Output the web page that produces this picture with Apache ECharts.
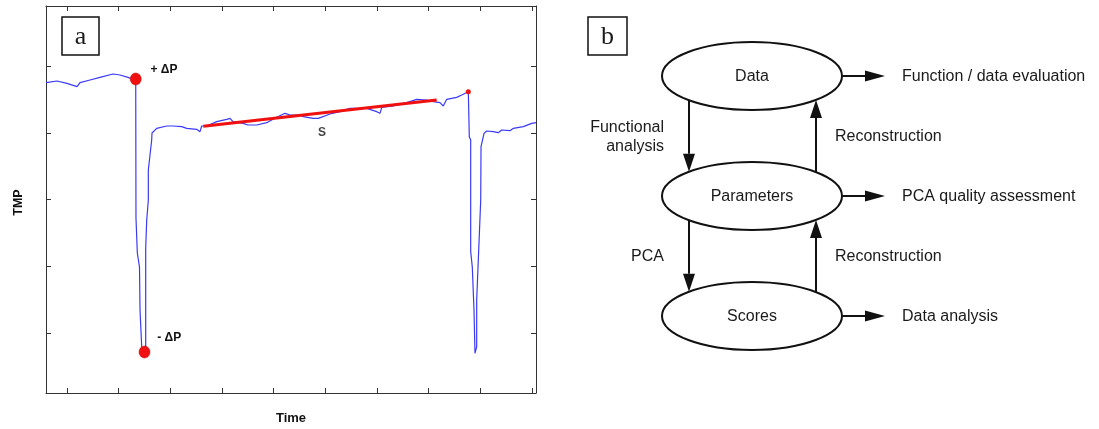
<!DOCTYPE html>
<html>
<head>
<meta charset="utf-8">
<script src="https://cdn.jsdelivr.net/npm/echarts@6/dist/echarts.min.js"></script>
<style>
html, body { margin: 0; padding: 0; background: #fff; }
#main { width: 1099px; height: 429px; }
</style>
</head>
<body>
<div id="main"></div>
<script>
// a: TMP curve
const timeVals = [5.94, 8.06, 10.0, 11.94, 12.52, 14.45, 16.39, 18.9, 20.26, 21.81, 22.58, 23.3,
	23.35, 23.61, 23.61, 24.03, 24.13, 24.46, 24.46, 24.96, 25.23, 25.23, 25.43, 25.74, 25.74,
	26.39, 26.45, 26.7, 27.36, 29.3, 30.57, 32.2, 33.17, 35.1, 35.74, 36.07, 37.04, 38.97, 40.91,
	41.55, 42.13, 44.06, 45.03, 46.72, 48.65, 50.59, 52.19, 53.16, 55.1, 55.73, 57.67, 58.64,
	60.9, 62.84, 64.77, 68.0, 69.94, 70.58, 70.91, 73.15, 75.75, 77.68, 79.62, 80.89, 82.19,
	82.83, 83.16, 83.49, 85.42, 86.39, 87.67, 87.86, 88.13, 88.13, 88.44, 88.77, 88.96, 89.29,
	89.29, 89.68, 90.07, 90.13, 90.71, 91.23, 92.51, 93.47, 94.13, 95.74, 96.38, 98.31, 99.94, 100.77];
const tmpVals = [475.5, 478, 474.5, 469.5, 475.5, 479.5, 483.5, 488.5, 487, 483.5, 481, 481,
	272.5, 269.5, 220, 199, 134.5, 131.5, 79, 71.5, 79, 227.5, 269.5, 299.5, 344.5,
	389.5, 400, 402, 407, 410.5, 410.5, 409.5, 407, 405.5, 402, 410.5, 410.5, 417, 420.5,
	422, 417, 414.5, 412, 412, 415.5, 423.5, 429.5, 427, 427, 424.5, 422, 422,
	428.5, 432, 437, 437, 432, 429.5, 438.5, 440.5, 445.5, 450.5, 449.5, 447, 445.5,
	440.5, 440.5, 450.5, 453.5, 457, 462, 394.5, 389.5, 222, 199, 134.5, 69.5, 79.5,
	149.5, 224.5, 299.5, 379.5, 399.5, 403, 402, 400.5, 404.5, 403.5, 407, 409.5, 414.5, 415.5];

// slope S
const slopeTime = [36.38, 81.55];
const slopeTmp = [410, 449.5];
const slopeLabel = ['S', 59.35, 400];

// +dP / -dP
const dpNames = ['+ ΔP', '- ΔP'];
const dpTime = [23.3, 25.0];
const dpTmp = [481, 71.5];
const endTime = [87.67];
const endTmp = [462];

const timeTicks = [10, 20, 30, 40, 50, 60, 70, 80, 90, 100];
const tmpTicks = [100, 200, 300, 400, 500];
const timeRange = [5.935, 100.77];
const tmpRange = [10, 590.5];

// b: flow diagram
const nodeNames = ['Data', 'Parameters', 'Scores'];
const outputNames = ['Function / data evaluation', 'PCA quality assessment', 'Data analysis'];
const downLabels = ['Functional\nanalysis', 'PCA'];
const upLabels = ['Reconstruction', 'Reconstruction'];

const chart = echarts.init(document.getElementById('main'), null, { renderer: 'canvas' });

function zip(a, b) {
	return a.map(function (v, i) { return [v, b[i]]; });
}

function txt(s, x, y, font, align, valign) {
	return {
		type: 'text',
		silent: true,
		style: {
			text: s, x: x, y: y, font: font, fill: '#1a1a1a',
			align: align, verticalAlign: valign,
			textAlign: align, textVerticalAlign: valign,
			lineHeight: 19
		}
	};
}

function arrow(els, x1, y1, x2, y2, len, half) {
	let dx = x2 - x1, dy = y2 - y1;
	let d = Math.sqrt(dx * dx + dy * dy);
	let ux = dx / d, uy = dy / d;
	let bx = x2 - ux * len, by = y2 - uy * len;
	els.push({
		type: 'line', silent: true,
		shape: { x1: x1, y1: y1, x2: bx, y2: by },
		style: { stroke: '#111', lineWidth: 2 }
	});
	els.push({
		type: 'polygon', silent: true,
		shape: { points: [[x2, y2], [bx - uy * half, by + ux * half], [bx + uy * half, by - ux * half]] },
		style: { fill: '#111' }
	});
}

function letterBox(els, s, x, y, w, h) {
	els.push({
		type: 'rect', silent: true,
		shape: { x: x, y: y, width: w, height: h },
		style: { fill: '#fff', stroke: '#111', lineWidth: 1.5 }
	});
	els.push(txt(s, x + w / 2, y + h / 2 + 1, '26px "Liberation Serif", "Times New Roman", serif', 'center', 'middle'));
}

function buildDiagram() {
	let els = [];
	let cx = 752, rx = 90, ry = 34, top = 76, gap = 120;
	let lx = -63, rxo = 64;
	let font = '16px "Liberation Sans", Arial, sans-serif';
	function edge(cy, dx, side) {
		return cy + side * ry * Math.sqrt(1 - (dx * dx) / (rx * rx));
	}
	letterBox(els, 'a', 62, 17, 37, 38);
	letterBox(els, 'b', 588, 17, 39, 38);

	nodeNames.forEach(function (name, i) {
		let cy = top + i * gap;
		els.push({
			type: 'ellipse', silent: true,
			shape: { cx: cx, cy: cy, rx: rx, ry: ry },
			style: { fill: '#fff', stroke: '#111', lineWidth: 2 }
		});
		els.push(txt(name, cx, cy + 1, font, 'center', 'middle'));
		arrow(els, cx + rx, cy, 885, cy, 20, 5.5);
		els.push(txt(outputNames[i], 902, cy + 1, font, 'left', 'middle'));
	});

	downLabels.forEach(function (s, i) {
		let cy1 = top + i * gap, cy2 = top + (i + 1) * gap;
		arrow(els, cx + lx, edge(cy1, lx, 1), cx + lx, edge(cy2, lx, -1), 18, 6);
		els.push(txt(s, 664, (cy1 + cy2) / 2 + 1, font, 'right', 'middle'));
	});
	upLabels.forEach(function (s, i) {
		let cy1 = top + i * gap, cy2 = top + (i + 1) * gap;
		arrow(els, cx + rxo, edge(cy2, rxo, -1), cx + rxo, edge(cy1, rxo, 1), 18, 6);
		els.push(txt(s, 835, (cy1 + cy2) / 2 + 1, font, 'left', 'middle'));
	});
	return els;
}

function axisX(pos, name) {
	return {
		type: 'value', position: pos, min: timeRange[0], max: timeRange[1],
		name: name, nameLocation: 'middle', nameGap: 19,
		nameTextStyle: { fontFamily: 'Liberation Sans', fontWeight: 'bold', fontSize: 13, color: '#111' },
		axisLine: { show: true, onZero: false, lineStyle: { color: '#333', width: 1 } },
		axisTick: { show: true, inside: true, length: 5, customValues: timeTicks, lineStyle: { color: '#333' } },
		axisLabel: { show: false },
		splitLine: { show: false }
	};
}

function axisY(pos, name) {
	return {
		type: 'value', position: pos, min: tmpRange[0], max: tmpRange[1],
		name: name, nameLocation: 'middle', nameGap: 21,
		nameTextStyle: { fontFamily: 'Liberation Sans', fontWeight: 'bold', fontSize: 12.5, color: '#111', padding: [0, 6, 0, 0] },
		axisLine: { show: true, onZero: false, lineStyle: { color: '#333', width: 1 } },
		axisTick: { show: true, inside: true, length: 5, customValues: tmpTicks, lineStyle: { color: '#333' } },
		axisLabel: { show: false },
		splitLine: { show: false }
	};
}

let option = {
	animation: false,
	backgroundColor: '#fff',
	grid: { left: 46, top: 6, width: 490, height: 387, containLabel: false, outerBoundsMode: 'none' },
	xAxis: [axisX('bottom', 'Time'), axisX('top', '')],
	yAxis: [axisY('left', 'TMP'), axisY('right', '')],
	series: [{
		type: 'line',
		data: zip(timeVals, tmpVals),
		showSymbol: false,
		lineStyle: { color: '#3a3af6', width: 1.2 },
		z: 2
	}, {
		type: 'line',
		data: zip(slopeTime, slopeTmp),
		showSymbol: false,
		lineStyle: { color: '#f01010', width: 3 },
		z: 3
	}, {
		type: 'scatter',
		data: [{
			value: [dpTime[0], dpTmp[0]], name: dpNames[0],
			label: { distance: 9, offset: [0, -9] }
		}, {
			value: [dpTime[1], dpTmp[1]], name: dpNames[1],
			label: { distance: 7, offset: [0, -14] }
		}],
		symbolSize: [11, 12],
		itemStyle: { color: '#f01010', borderColor: '#c00000', borderWidth: 0.5, opacity: 1 },
		label: {
			show: true, position: 'right', formatter: '{b}',
			fontFamily: 'Liberation Sans', fontWeight: 'bold', fontSize: 12, color: '#111'
		},
		z: 4
	}, {
		type: 'scatter',
		data: zip(endTime, endTmp),
		symbolSize: 5,
		itemStyle: { color: '#f01010', opacity: 1 },
		z: 4
	}, {
		type: 'scatter',
		data: [{ value: [slopeLabel[1], slopeLabel[2]], name: slopeLabel[0] }],
		symbolSize: 0,
		label: {
			show: true, position: 'inside', formatter: '{b}',
			fontFamily: 'Liberation Sans', fontWeight: 'bold', fontSize: 12, color: '#111'
		},
		z: 4
	}],
	graphic: { elements: buildDiagram() }
};
chart.setOption(option);
</script>
</body>
</html>
